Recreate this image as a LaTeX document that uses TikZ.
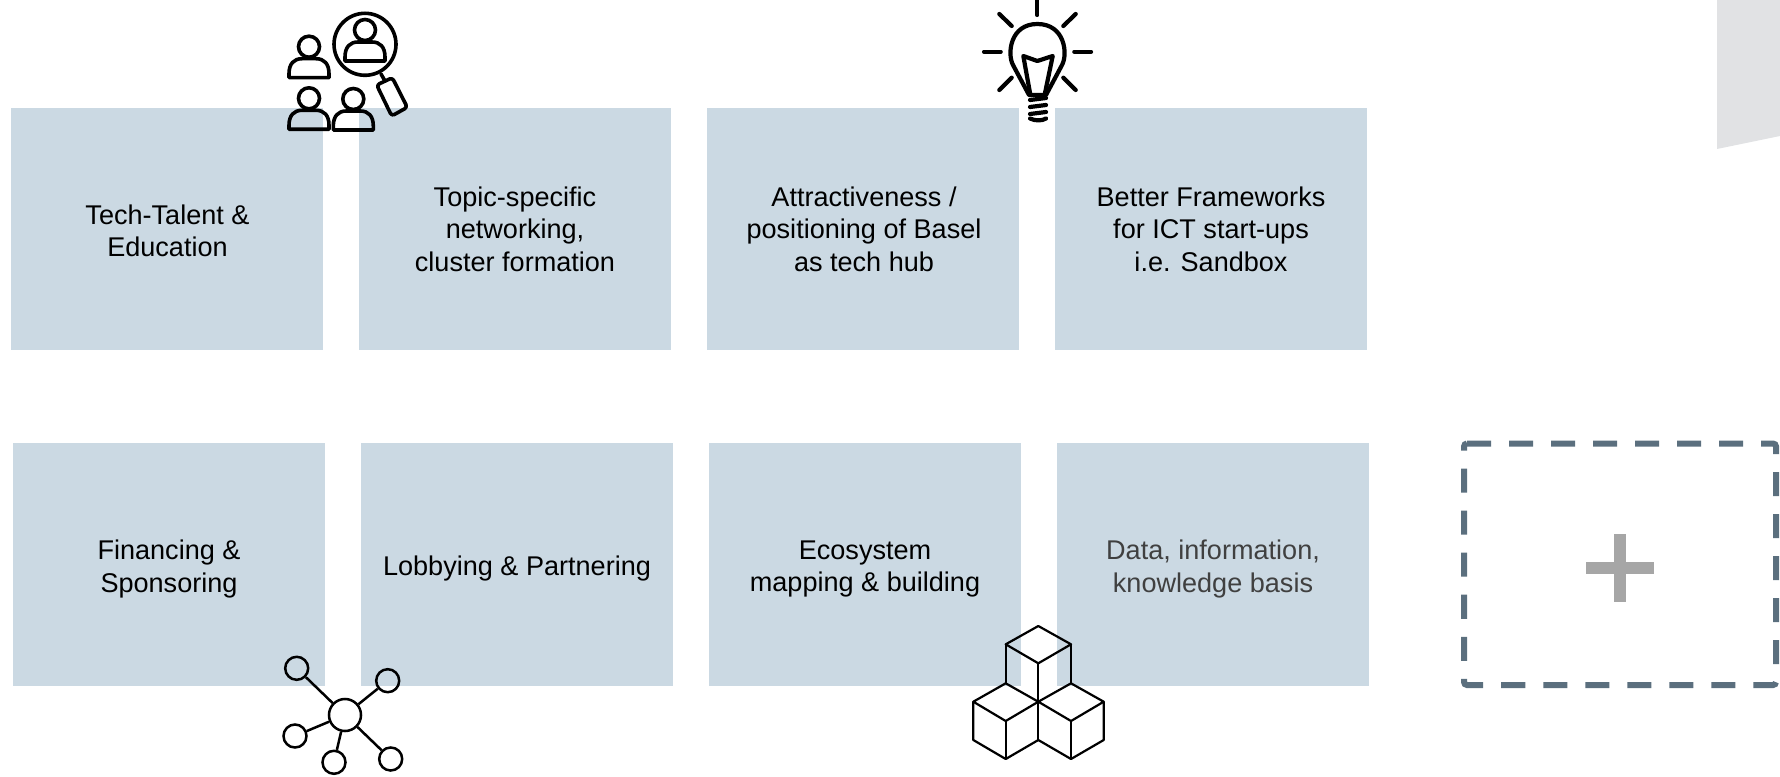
\documentclass[tikz,border=0pt]{standalone}
\usepackage{fontspec}
\setmainfont{Liberation Sans}
\definecolor{boxblue}{HTML}{CBD9E3}
\definecolor{dashslate}{HTML}{5B6F7E}
\definecolor{plusgrey}{HTML}{A6A6A6}
\definecolor{cornergrey}{HTML}{E1E2E4}
\definecolor{darktext}{HTML}{404040}
\tikzset{
    iconline/.style = {line width=0.036cm, line join=round, line cap=round},
    bulbline/.style = {line width=0.042cm, line join=round, line cap=round},
    person/.pic = {
        \draw[iconline] (0,0) circle (10.5);
        \draw[iconline] (-20,31) -- (-20,27) .. controls (-20,17) and (-15,12) .. (-7,12) -- (7,12) .. controls (15,12) and (20,17) .. (20,27) -- (20,31) -- cycle;
    }
}
\begin{document}
\begin{tikzpicture}[x=0.01cm,y=-0.01cm]
    \useasboundingbox (0,0) rectangle (1780,776);
    \fill[cornergrey] (1717,0) -- (1780,0) -- (1780,136) -- (1717,149) -- cycle;

    \begin{scope}[every node/.style = {rectangle, fill=boxblue, minimum width=3.12cm, minimum height=2.42cm, inner sep=0pt}]
        \node(talent) at (167,229) {};
        \node(network) at (515,229) {};
        \node(basel) at (863,229) {};
        \node(frameworks) at (1211,229) {};
        \node(financing) at (169,564.5) {};
        \node(lobbying) at (517,564.5) {};
        \node(ecosystem) at (865,564.5) {};
        \node(data) at (1213,564.5) {};
    \end{scope}

    \begin{scope}[every node/.style = {inner sep=0pt, align=center, font=\fontsize{7.7pt}{9.2pt}\selectfont}]
        \node(talenttext) at (167.5,231) {Tech-Talent \&\\Education};
        \node(networktext) at (515,229) {Topic-specific\\networking,\\cluster formation};
        \node(baseltext) at (864,229) {Attractiveness /\\positioning of Basel\\as tech hub};
        \node(frameworkstext) at (1211,229) {Better Frameworks\\for ICT start-ups\\i.e. Sandbox};
        \node(financingtext) at (169,569) {Financing \&\\Sponsoring};
        \node(lobbyingtext) at (517,568) {Lobbying \& Partnering};
        \node(ecosystemtext) at (865,569) {Ecosystem\\mapping \& building};
        \node[text=darktext](datatext) at (1213,569) {Data, information,\\knowledge basis};
    \end{scope}

    \draw[dashslate, line width=0.06cm, rounded corners=0.03cm, dash pattern=on 0.24cm off 0.18cm] (1464,443.5) -- (1776,443.5) -- (1776,685) -- (1464,685) -- cycle;
    \draw[plusgrey, line width=0.12cm] (1586,568) -- (1654,568);
    \draw[plusgrey, line width=0.12cm] (1620,534) -- (1620,602);

    \pic at (309,46.7) {person};
    \pic at (309,98.3) {person};
    \pic at (353.3,99) {person};
    \pic at (365,30) {person};
    \draw[iconline] (365,44.3) circle (31);
    \draw[iconline] (381,74) -- (385,81);
    \draw[iconline, rounded corners=0.03cm] (376.7,85) -- (392.3,77.7) -- (407.3,107.3) -- (391.7,116) -- cycle;

    \draw[bulbline] (1037.3,0) -- (1037.3,15);
    \draw[bulbline] (984,51.7) -- (1000.7,51.7);
    \draw[bulbline] (1074.3,51.7) -- (1091,51.7);
    \draw[bulbline] (999.3,14) -- (1011.7,26);
    \draw[bulbline] (1075.7,14) -- (1063.3,26);
    \draw[bulbline] (999.3,90) -- (1011.7,77.7);
    \draw[bulbline] (1075.7,90) -- (1063.3,77.7);
    \draw[bulbline] (1029,95) -- (1013,65) .. controls (1007,54) and (1010,24) .. (1037.3,24) .. controls (1065,24) and (1068,54) .. (1062,65) -- (1046,95) -- cycle;
    \draw[bulbline] (1030,93) -- (1023.3,56) -- (1037.3,61) -- (1052.7,56) -- (1045,93);
    \draw[bulbline] (1030,100) -- (1046,98);
    \draw[bulbline] (1030,107) -- (1046,105);
    \draw[bulbline] (1030,114) -- (1046,112);
    \draw[bulbline] (1030,118.5) .. controls (1035,121) and (1042,121) .. (1046,118.5);

    \begin{scope}[every node/.style = {circle, draw, line width=0.025cm, inner sep=0pt, minimum size=0.23cm}]
        \node[minimum size=0.32cm](hub) at (345,715) {};
        \node(leaf1) at (296.7,668.3) {};
        \node(leaf2) at (387.7,680.7) {};
        \node(leaf3) at (295,736) {};
        \node(leaf4) at (334,762.3) {};
        \node(leaf5) at (390.7,759) {};
    \end{scope}

    \begin{scope}[every edge/.style = {-, draw, line width=0.025cm}]
        \path(hub) edge[] (leaf1);
        \path(hub) edge[] (leaf2);
        \path(hub) edge[] (leaf3);
        \path(hub) edge[] (leaf4);
        \path(hub) edge[] (leaf5);
    \end{scope}

    \begin{scope}[line width=0.022cm, line join=round]
        \draw (1038.3,626) -- (1071,644.3) -- (1038.3,663.3) -- (1005.7,644.3) -- cycle;
        \draw (1005.7,644.3) -- (1005.7,683.3);
        \draw (1071,644.3) -- (1071,683.3);
        \draw (1038.3,663.3) -- (1038.3,740);
        \draw (1005.7,683.3) -- (1038.3,701.7) -- (1005.7,721) -- (973.3,701.7) -- cycle;
        \draw (973.3,701.7) -- (973.3,740) -- (1005.7,759) -- (1038.3,740);
        \draw (1005.7,721) -- (1005.7,759);
        \draw (1071,683.3) -- (1038.3,701.7) -- (1071,721) -- (1103.7,701.7) -- cycle;
        \draw (1103.7,701.7) -- (1103.7,740) -- (1071,759) -- (1038.3,740);
        \draw (1071,721) -- (1071,759);
    \end{scope}
\end{tikzpicture}
\end{document}
